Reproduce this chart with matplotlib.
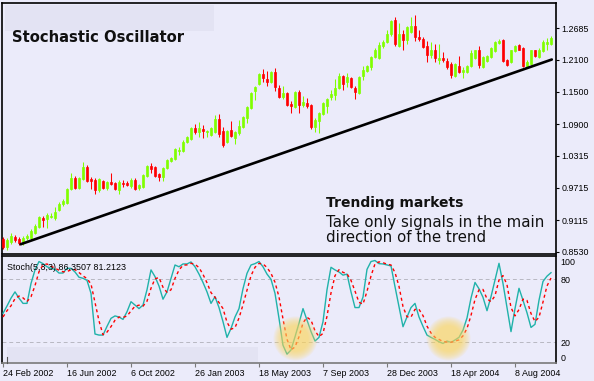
"""Stochastic Oscillator chart: weekly candles with trend line and a Stoch(5,3,3) panel."""
import matplotlib
matplotlib.use('Agg')
import matplotlib.pyplot as plt
import numpy as np
from matplotlib.patches import Rectangle
from matplotlib.lines import Line2D

# ── Data: weekly bars starting 24 Feb 2002 ──
opens = [
    .877, .862, .871, .880, .877, .869, .879, .879, .888, .899,
    .916, .914, .918, .916, .931, .942, .944, .970, .990, .971,
    .988, 1.010, .988, .986, .968, .984, .971, .983, .981, .968,
    .981, .981, .975, .986, .971, .973, .994, 1.012, 1.010, .997,
    .992, 1.009, 1.021, 1.025, 1.040, 1.040, 1.057, 1.062, 1.083, 1.075,
    1.081, 1.075, 1.070, 1.075, 1.100, 1.077, 1.057, 1.079, 1.064, 1.073,
    1.085, 1.101, 1.120, 1.151, 1.165, 1.183, 1.174, 1.168, 1.187, 1.157,
    1.140, 1.148, 1.127, 1.122, 1.150, 1.126, 1.129, 1.126, 1.085, 1.096,
    1.109, 1.124, 1.140, 1.144, 1.157, 1.179, 1.168, 1.176, 1.157, 1.148,
    1.179, 1.189, 1.196, 1.215, 1.213, 1.235, 1.243, 1.257, 1.283, 1.235,
    1.257, 1.246, 1.261, 1.272, 1.252, 1.248, 1.235, 1.218, 1.228, 1.209,
    1.213, 1.207, 1.202, 1.179, 1.198, 1.187, 1.187, 1.198, 1.213, 1.229,
    1.196, 1.207, 1.215, 1.226, 1.241, 1.246, 1.209, 1.205, 1.226, 1.237,
    1.231, 1.198, 1.202, 1.228, 1.215, 1.226, 1.239, 1.239,
]
closes = [
    .862, .875, .882, .875, .869, .879, .882, .892, .901, .918,
    .912, .921, .919, .927, .942, .947, .970, .990, .971, .990,
    1.010, .984, .985, .968, .988, .971, .983, .979, .970, .983,
    .979, .977, .986, .970, .977, .996, 1.012, 1.007, .994, .992,
    1.009, 1.023, 1.027, 1.044, 1.042, 1.057, 1.066, 1.083, 1.075, 1.083,
    1.078, 1.077, 1.083, 1.100, 1.072, 1.051, 1.077, 1.068, 1.075, 1.087,
    1.103, 1.122, 1.148, 1.159, 1.183, 1.176, 1.168, 1.187, 1.159, 1.140,
    1.148, 1.126, 1.124, 1.150, 1.126, 1.131, 1.124, 1.085, 1.098, 1.111,
    1.129, 1.137, 1.146, 1.157, 1.179, 1.165, 1.178, 1.159, 1.150, 1.178,
    1.191, 1.198, 1.215, 1.228, 1.237, 1.243, 1.257, 1.282, 1.239, 1.257,
    1.246, 1.270, 1.272, 1.252, 1.248, 1.233, 1.218, 1.229, 1.213, 1.213,
    1.209, 1.196, 1.181, 1.202, 1.187, 1.191, 1.198, 1.222, 1.228, 1.200,
    1.215, 1.217, 1.231, 1.243, 1.244, 1.207, 1.200, 1.228, 1.235, 1.229,
    1.198, 1.205, 1.228, 1.217, 1.228, 1.243, 1.243, 1.250,
]
highs = [
    .880, .879, .888, .884, .880, .882, .886, .895, .905, .919,
    .919, .925, .925, .936, .945, .951, .971, .999, .994, .992,
    1.020, 1.014, .992, .990, .990, .986, .984, .999, .983, .986,
    .986, .984, .990, .990, .979, .997, 1.014, 1.018, 1.012, .999,
    1.010, 1.025, 1.029, 1.046, 1.048, 1.060, 1.068, 1.085, 1.090, 1.094,
    1.088, 1.079, 1.085, 1.107, 1.109, 1.085, 1.079, 1.096, 1.077, 1.098,
    1.105, 1.124, 1.150, 1.161, 1.185, 1.192, 1.189, 1.189, 1.194, 1.163,
    1.161, 1.150, 1.133, 1.151, 1.153, 1.142, 1.139, 1.127, 1.101, 1.112,
    1.131, 1.139, 1.153, 1.174, 1.185, 1.181, 1.185, 1.178, 1.161, 1.179,
    1.198, 1.200, 1.217, 1.231, 1.243, 1.246, 1.265, 1.283, 1.289, 1.278,
    1.265, 1.272, 1.289, 1.293, 1.265, 1.252, 1.244, 1.243, 1.239, 1.239,
    1.224, 1.213, 1.205, 1.204, 1.217, 1.196, 1.200, 1.229, 1.229, 1.235,
    1.217, 1.218, 1.233, 1.244, 1.248, 1.248, 1.211, 1.229, 1.237, 1.239,
    1.233, 1.209, 1.229, 1.229, 1.231, 1.246, 1.250, 1.254,
]
lows = [
    .858, .856, .867, .871, .866, .866, .875, .875, .886, .897,
    .899, .897, .916, .912, .929, .938, .942, .968, .970, .970,
    .986, .983, .970, .960, .964, .970, .968, .977, .968, .960,
    .973, .975, .971, .968, .968, .971, .992, .999, .992, .984,
    .984, 1.007, 1.020, 1.023, 1.033, 1.038, 1.055, 1.060, 1.072, 1.066,
    1.064, 1.066, 1.068, 1.073, 1.066, 1.048, 1.055, 1.066, 1.053, 1.070,
    1.083, 1.092, 1.118, 1.135, 1.163, 1.168, 1.161, 1.166, 1.151, 1.139,
    1.137, 1.124, 1.111, 1.120, 1.111, 1.122, 1.120, 1.081, 1.075, 1.073,
    1.107, 1.111, 1.135, 1.135, 1.155, 1.153, 1.159, 1.157, 1.137, 1.146,
    1.172, 1.187, 1.191, 1.213, 1.211, 1.231, 1.241, 1.254, 1.235, 1.233,
    1.229, 1.239, 1.259, 1.244, 1.244, 1.231, 1.205, 1.213, 1.205, 1.202,
    1.205, 1.192, 1.176, 1.178, 1.185, 1.176, 1.185, 1.196, 1.211, 1.194,
    1.194, 1.205, 1.213, 1.224, 1.239, 1.205, 1.198, 1.204, 1.224, 1.228,
    1.196, 1.196, 1.200, 1.215, 1.213, 1.224, 1.228, 1.237,
]

# Stoch(5,3,3): %K main line and %D signal line
stoch_k = [
    47.5, 54.5, 62, 68, 62, 57, 57, 76, 89, 97,
    95, 92, 90.5, 89.5, 86, 86, 90.5, 90.5, 87, 82,
    81, 79, 66.6, 27.7, 26.7, 26.7, 35, 42.7, 45, 44,
    41.7, 49, 58.6, 55.4, 52, 55.4, 70, 89, 82.6, 73.6,
    61, 68, 81, 93.7, 92, 94.7, 94.7, 96.6, 92, 85,
    77, 68, 57, 63.4, 53, 39.5, 24.5, 33, 44, 52,
    71, 85.7, 93.7, 95, 97, 92, 85, 80, 66.6, 42.7,
    17, 8.5, 12.4, 25, 38, 52, 41, 30, 21, 24.5,
    39.5, 70, 91.5, 89, 87, 84, 85, 68, 53, 53,
    63, 89.5, 97, 98, 95, 94.7, 93.7, 92.8, 73, 54,
    34.7, 44, 53, 57, 44, 35, 26.7, 24.5, 22.6, 20.3,
    18.7, 21, 19.7, 22, 24.5, 31.5, 43, 62, 77, 71,
    62.8, 50, 63.4, 79.4, 95.3, 76, 53, 30, 52, 71.4,
    60, 48, 34, 37, 60, 78, 83, 86.35,
]
stoch_d = [
    44, 50, 54.7, 61.5, 64, 62.3, 58.7, 63.3, 74, 87.3,
    93.7, 94.7, 92.5, 90.7, 88.7, 87.2, 87.5, 89, 89.3, 86.5,
    83.3, 80.7, 75.5, 57.8, 40.3, 27, 29.5, 34.8, 40.9, 43.9,
    43.6, 44.9, 49.8, 54.3, 55.3, 54.3, 59.1, 71.5, 80.5, 81.7,
    72.4, 67.5, 70, 80.9, 88.9, 93.5, 93.8, 95.3, 94.4, 91.2,
    84.7, 76.7, 67.3, 62.8, 57.8, 52, 39, 32.3, 33.8, 43,
    55.7, 69.6, 83.5, 91.5, 95.2, 94.7, 91.3, 85.7, 77.2, 63.1,
    42.1, 22.7, 12.6, 15.3, 25.1, 38.3, 43.7, 41, 30.7, 25.2,
    28.3, 44.7, 67, 83.5, 89.2, 86.7, 85.3, 79, 68.7, 58,
    56.3, 68.5, 83.2, 94.8, 96.7, 95.9, 94.5, 93.7, 86.5, 73.3,
    53.9, 44.2, 43.9, 51.3, 51.3, 45.3, 35.2, 28.7, 24.6, 22.5,
    20.5, 20, 19.8, 20.9, 22.1, 26, 33, 45.5, 60.7, 70,
    70.3, 61.3, 58.7, 64.3, 79.4, 83.6, 74.8, 53, 45, 51.1,
    61.1, 59.8, 47.3, 39.7, 43.7, 58.3, 73.7, 81.2,
]

price_ticks = [0.8530, 0.9115, 0.9715, 1.0315, 1.0900, 1.1500, 1.2100, 1.2685]
stoch_ticks = [0, 20, 80, 100]
date_pos = [0, 16, 32, 48, 64, 80, 96, 112, 128]
date_labels = ['24 Feb 2002', '16 Jun 2002', '6 Oct 2002', '26 Jan 2003', '18 May 2003',
               '7 Sep 2003', '28 Dec 2003', '18 Apr 2004', '8 Aug 2004']

# ── Style ──
BG = '#EBEBFA'
BULL = '#80FF00'
BEAR = '#FF0000'
K_COLOR = '#20B2AA'
D_COLOR = '#FF0000'
GLOW = '#FFD75A'
SMALL = dict(family='Liberation Sans', size=6.4)

W, H = 594, 381
fig = plt.figure(figsize=(W / 100, H / 100), dpi=100)
fig.patch.set_facecolor(BG)


def px_rect(x0, y0, x1, y1):
    """Pixel box (origin top-left) -> figure fraction [l, b, w, h]."""
    return [x0 / W, 1 - y1 / H, (x1 - x0) / W, (y1 - y0) / H]


ax = fig.add_axes(px_rect(2, 3, 556, 254))
ax2 = fig.add_axes(px_rect(2, 256, 556, 363))
for a in (ax, ax2):
    a.set_facecolor(BG)
    for s in a.spines.values():
        s.set_color('black')
        s.set_linewidth(1.2)
ax2.spines['bottom'].set_color('#7A7A7A')

# ── Candles ──
x = np.arange(len(closes))
o, h, l, c = map(np.array, (opens, highs, lows, closes))
colors = np.where(c >= o, BULL, BEAR)
ax.vlines(x, l, h, colors=colors, lw=0.75, zorder=2)
ax.bar(x, np.abs(c - o), bottom=np.minimum(o, c), width=0.72, color=colors,
       edgecolor=colors, linewidth=0.5, zorder=3)

# trend line
ax.plot([4.4, 137.2], [0.8668, 1.2104], color='black', lw=1.9,
        solid_capstyle='round', zorder=4)

ax.set_xlim(-0.25, 138.25)
ax.set_ylim(0.8487, 1.3155)
ax.set_xticks([])
ax.yaxis.tick_right()
ax.set_yticks(price_ticks)
ax.set_yticklabels([f'{v:.4f}' for v in price_ticks], **SMALL)
ax.tick_params(axis='y', length=2, width=0.8, pad=2, colors='black')

# ── Stochastic panel ──
for lvl in (20, 80):
    ax2.axhline(lvl, color='#B8B8C2', lw=0.7, ls=(0, (4, 3)), zorder=1)
ax2.plot(x, stoch_k, color=K_COLOR, lw=1.0, zorder=3)
ax2.plot(x, stoch_d, color=D_COLOR, lw=1.0, ls=(0, (2.2, 2.2)), zorder=3)

# soft yellow highlight circles
for cx, cy in [(73, 23.8), (111.3, 23.5)]:
    for r in np.linspace(22, 13, 9):
        ax2.scatter([cx], [cy], s=(2 * r * 0.72) ** 2, color=GLOW, alpha=0.11,
                    linewidths=0, zorder=5)

ax2.set_xlim(-0.25, 138.25)
ax2.set_ylim(0, 102.3)
ax2.yaxis.tick_right()
ax2.set_yticks(stoch_ticks)
ax2.set_yticklabels([str(v) for v in stoch_ticks], **SMALL)
ylbl = ax2.get_yticklabels()
ylbl[0].set_verticalalignment('bottom')
ylbl[-1].set_verticalalignment('top')
ax2.tick_params(axis='y', length=0, pad=3)
ax2.set_xticks(date_pos)
ax2.set_xticklabels(date_labels, ha='left', **SMALL)
ax2.tick_params(axis='x', length=3, width=0.8, color='#7A7A7A', pad=1.5)

# ── Faded boxes left over from the source image ──
fig.add_artist(Rectangle((5 / W, 1 - 31 / H), 209 / W, 26 / H, transform=fig.transFigure,
                         facecolor='#E3E3F3', edgecolor='none', zorder=0.5))
fig.add_artist(Rectangle((7 / W, 1 - 362 / H), 251 / W, 15 / H, transform=fig.transFigure,
                         facecolor='#E3E3F3', edgecolor='none', zorder=0.5))
fig.add_artist(Line2D([7 / W, 7 / W], [1 - 357 / H, 1 - 362.5 / H], color='#555555', lw=0.8))

# ── Texts ──
fig.text(12 / W, 1 - 41.5 / H, 'Stochastic Oscillator', fontsize=10.6, fontweight='bold',
         family='DejaVu Sans', va='baseline', color='#111111')
fig.text(326 / W, 1 - 207 / H, 'Trending markets', fontsize=10, fontweight='bold',
         family='DejaVu Sans', va='baseline', color='#111111')
fig.text(326 / W, 1 - 227 / H, 'Take only signals in the main', fontsize=10.8,
         family='DejaVu Sans', va='baseline', color='#111111')
fig.text(326 / W, 1 - 242 / H, 'direction of the trend', fontsize=10.8,
         family='DejaVu Sans', va='baseline', color='#111111')
fig.text(7 / W, 1 - 270 / H, 'Stoch(5,3,3) 86.3507 81.2123', va='baseline', **SMALL)

fig.savefig('out.png', dpi=100, facecolor=BG)
